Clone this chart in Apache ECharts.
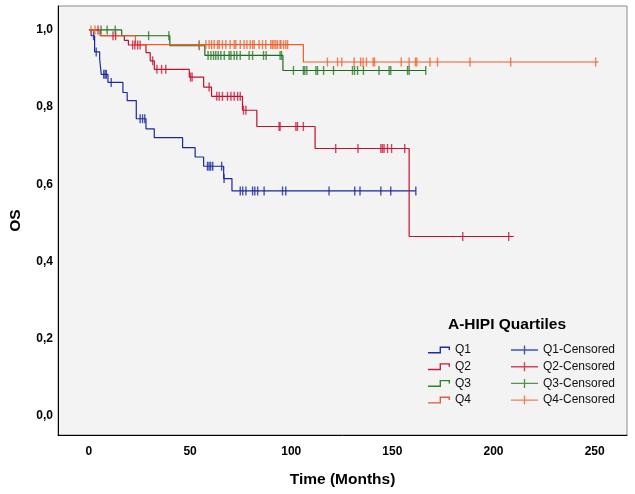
<!DOCTYPE html>
<html>
<head>
<meta charset="utf-8">
<script src="https://cdn.jsdelivr.net/npm/echarts@6/dist/echarts.min.js"></script>
<style>
  html, body { margin: 0; padding: 0; background: #ffffff; }
  #chart { width: 635px; height: 494px; }
</style>
</head>
<body>
<div id="chart"></div>
<script>
// ---- Data ----
const xTickValues = [0, 50, 100, 150, 200, 250];
const yTickValues = [0, 0.2, 0.4, 0.6, 0.8, 1.0];

const groupNames = ['Q1', 'Q2', 'Q3', 'Q4'];
const censorNames = ['Q1-Censored', 'Q2-Censored', 'Q3-Censored', 'Q4-Censored'];

// event times (months) and survival after each step
const q1Times = [0, 1.1, 2.8, 5.3, 6.1, 9.4, 16.8, 18.9, 23.4, 28.2, 32.3, 46.3, 52.5, 56.7, 66.6, 70.7];
const q1Surv  = [1.0, 0.985, 0.943, 0.924, 0.885, 0.864, 0.838, 0.817, 0.770, 0.744, 0.721, 0.695, 0.671, 0.647, 0.615, 0.583];
const q1End = 161.6;
const q1Censor = [2.3, 3.6, 7.3, 8.0, 8.6, 11.0, 25.3, 26.5, 27.6, 58.6, 59.4, 60.2, 61.2, 65.6, 66.8,
  74.8, 76.0, 77.6, 80.9, 82.0, 83.4, 86.6, 95.7, 97.3, 118.7, 131.4, 134.0, 144.3, 149.2, 161.6];

const q2Times = [0, 5.6, 17.5, 19.5, 28.2, 30.3, 32.3, 49.6, 56.7, 60.6, 75.9, 83.0, 111.8, 158.3];
const q2Surv  = [1.0, 0.985, 0.973, 0.961, 0.941, 0.920, 0.898, 0.878, 0.852, 0.828, 0.792, 0.750, 0.693, 0.465];
const q2End = 210;
const q2Censor = [4.5, 11.9, 13.2, 21.6, 22.7, 24.1, 25.3, 31.5, 33.6, 35.9, 38.0, 50.2, 51.0, 59.4,
  63.2, 64.4, 66.0, 68.5, 70.2, 71.8, 73.5, 74.8, 76.4, 77.6, 94.0, 94.5, 102.3, 103.1, 106.0,
  122.0, 133.0, 144.3, 145.1, 145.9, 147.6, 149.6, 156.1, 184.8, 207.5];

const q3Times = [0, 16.2, 40.0, 57.3, 95.9];
const q3Surv  = [1.0, 0.985, 0.959, 0.934, 0.895];
const q3End = 166.5;
const q3Censor = [6.0, 9.0, 13.0, 29.5, 39.5, 54.5, 58.9, 60.3, 61.6, 62.7, 63.9, 65.2, 66.9, 69.3, 70.2,
  71.8, 73.1, 74.8, 79.2, 80.9, 86.3, 87.6, 94.5, 95.2, 101.1, 106.0, 106.7, 107.7, 112.2, 113.0,
  116.0, 120.9, 130.3, 131.3, 132.8, 135.7, 143.4, 148.4, 149.2, 157.5, 158.3, 166.5];

const q4Times = [0, 5.6, 23.0, 106.0];
const q4Surv  = [1.0, 0.985, 0.962, 0.917];
const q4End = 252;
const q4Censor = [1.0, 3.0, 54.5, 57.8, 59.4, 60.6, 61.9, 63.6, 64.4, 66.0, 67.7, 69.8, 71.8, 72.6, 74.8,
  76.7, 78.1, 79.7, 80.9, 81.7, 84.1, 85.8, 87.4, 89.9, 90.7, 91.5, 92.4, 93.2, 94.5, 94.9, 96.2,
  97.3, 98.2, 117.9, 122.9, 125.0, 131.1, 134.3, 135.5, 137.2, 140.5, 141.2, 154.4, 158.3, 161.4,
  162.1, 168.6, 172.3, 188.4, 208.5, 250.5];

// ---- Styles ----
const lineColors   = ['#1a2a9c', '#c4102c', '#1d6b1d', '#ea5f28'];
const censorColors = ['#1a2a9c', '#cc1838', '#2a7a2a', '#f0602c'];
const legendLineColors = ['#1c2ca4', '#c42040', '#2f832f', '#e05a3c'];
const FONT = '"Liberation Sans", Arial, sans-serif';

const groups = [
  { times: q1Times, surv: q1Surv, end: q1End, censor: q1Censor },
  { times: q2Times, surv: q2Surv, end: q2End, censor: q2Censor },
  { times: q3Times, surv: q3Surv, end: q3End, censor: q3Censor },
  { times: q4Times, surv: q4Surv, end: q4End, censor: q4Censor }
];

function stepValue(g, t) {
  let v = g.surv[0];
  for (let i = 0; i < g.times.length; i++) {
    if (g.times[i] <= t) v = g.surv[i];
  }
  return v;
}

const series = [];
groups.forEach((g, i) => {
  const data = g.times.map((t, k) => [t, g.surv[k]]);
  data.push([g.end, g.surv[g.surv.length - 1]]);
  series.push({
    name: groupNames[i],
    type: 'line',
    step: 'end',
    data: data,
    symbol: 'none',
    showSymbol: false,
    lineStyle: { width: 1.2, color: lineColors[i] },
    itemStyle: { color: legendLineColors[i] },
    z: 2 + i
  });
});
groups.forEach((g, i) => {
  series.push({
    name: censorNames[i],
    type: 'scatter',
    data: g.censor.map(t => [t, stepValue(g, t)]),
    symbol: 'rect',
    symbolSize: [1.4, 9],
    itemStyle: { color: censorColors[i] },
    z: 6 + i
  });
});

const stepIcon = 'path://M0,5.6 L11.6,5.6 L11.6,0 L22,0 L22,3.5 L20.6,3.5 L20.6,1.4 L13,1.4 L13,7 L0,7 Z';
const crossIcon = 'path://M0,3.8 L12.8,3.8 L12.8,0 L14.2,0 L14.2,3.8 L27,3.8 L27,5.2 L14.2,5.2 L14.2,9 L12.8,9 L12.8,5.2 L0,5.2 Z';

const chart = echarts.init(document.getElementById('chart'), null, { renderer: 'canvas' });
chart.setOption({
  animation: false,
  backgroundColor: '#ffffff',
  textStyle: { fontFamily: FONT },
  grid: {
    left: 57, right: 8, top: 6, bottom: 59,
    show: true, backgroundColor: '#f3f3f3', borderColor: '#8a8a8a', borderWidth: 1
  },
  title: {
    text: 'A-HIPI Quartiles',
    left: 448, top: 317, padding: 0,
    textStyle: { fontFamily: FONT, fontSize: 15.5, fontWeight: 'bold', color: '#000' }
  },
  legend: [
    {
      data: groupNames,
      orient: 'vertical',
      left: 428, top: 344, padding: 0,
      icon: stepIcon,
      itemWidth: 22, itemHeight: 7,
      itemGap: 4.7,
      textStyle: { fontFamily: FONT, fontSize: 12, color: '#111', lineHeight: 12 },
      selectedMode: false
    },
    {
      data: censorNames,
      orient: 'vertical',
      left: 511, top: 344, padding: 0,
      icon: crossIcon,
      itemWidth: 27, itemHeight: 9,
      itemGap: 4.7,
      textStyle: { fontFamily: FONT, fontSize: 12, color: '#111', lineHeight: 12 },
      selectedMode: false
    }
  ],
  xAxis: {
    type: 'value',
    min: -15.3, max: 266,
    name: 'Time (Months)',
    nameLocation: 'middle',
    nameGap: 37,
    nameTextStyle: { fontFamily: FONT, fontSize: 15.5, fontWeight: 'bold', color: '#000' },
    axisLine: { show: true, onZero: false, lineStyle: { color: '#000', width: 1 } },
    axisTick: { show: false },
    splitLine: { show: false },
    axisLabel: {
      customValues: xTickValues,
      margin: 11,
      fontFamily: FONT, fontSize: 12, fontWeight: 'bold', color: '#000'
    }
  },
  yAxis: {
    type: 'value',
    min: -0.049, max: 1.062,
    name: 'OS',
    nameLocation: 'middle',
    nameGap: 34,
    nameTextStyle: { fontFamily: FONT, fontSize: 15.5, fontWeight: 'bold', color: '#000' },
    axisLine: { show: true, onZero: false, lineStyle: { color: '#000', width: 1 } },
    axisTick: { show: false },
    splitLine: { show: false },
    axisLabel: {
      customValues: yTickValues,
      margin: 5,
      fontFamily: FONT, fontSize: 12, fontWeight: 'bold', color: '#000',
      formatter: v => v.toFixed(1).replace('.', ',')
    }
  },
  series: series
});
</script>
</body>
</html>
